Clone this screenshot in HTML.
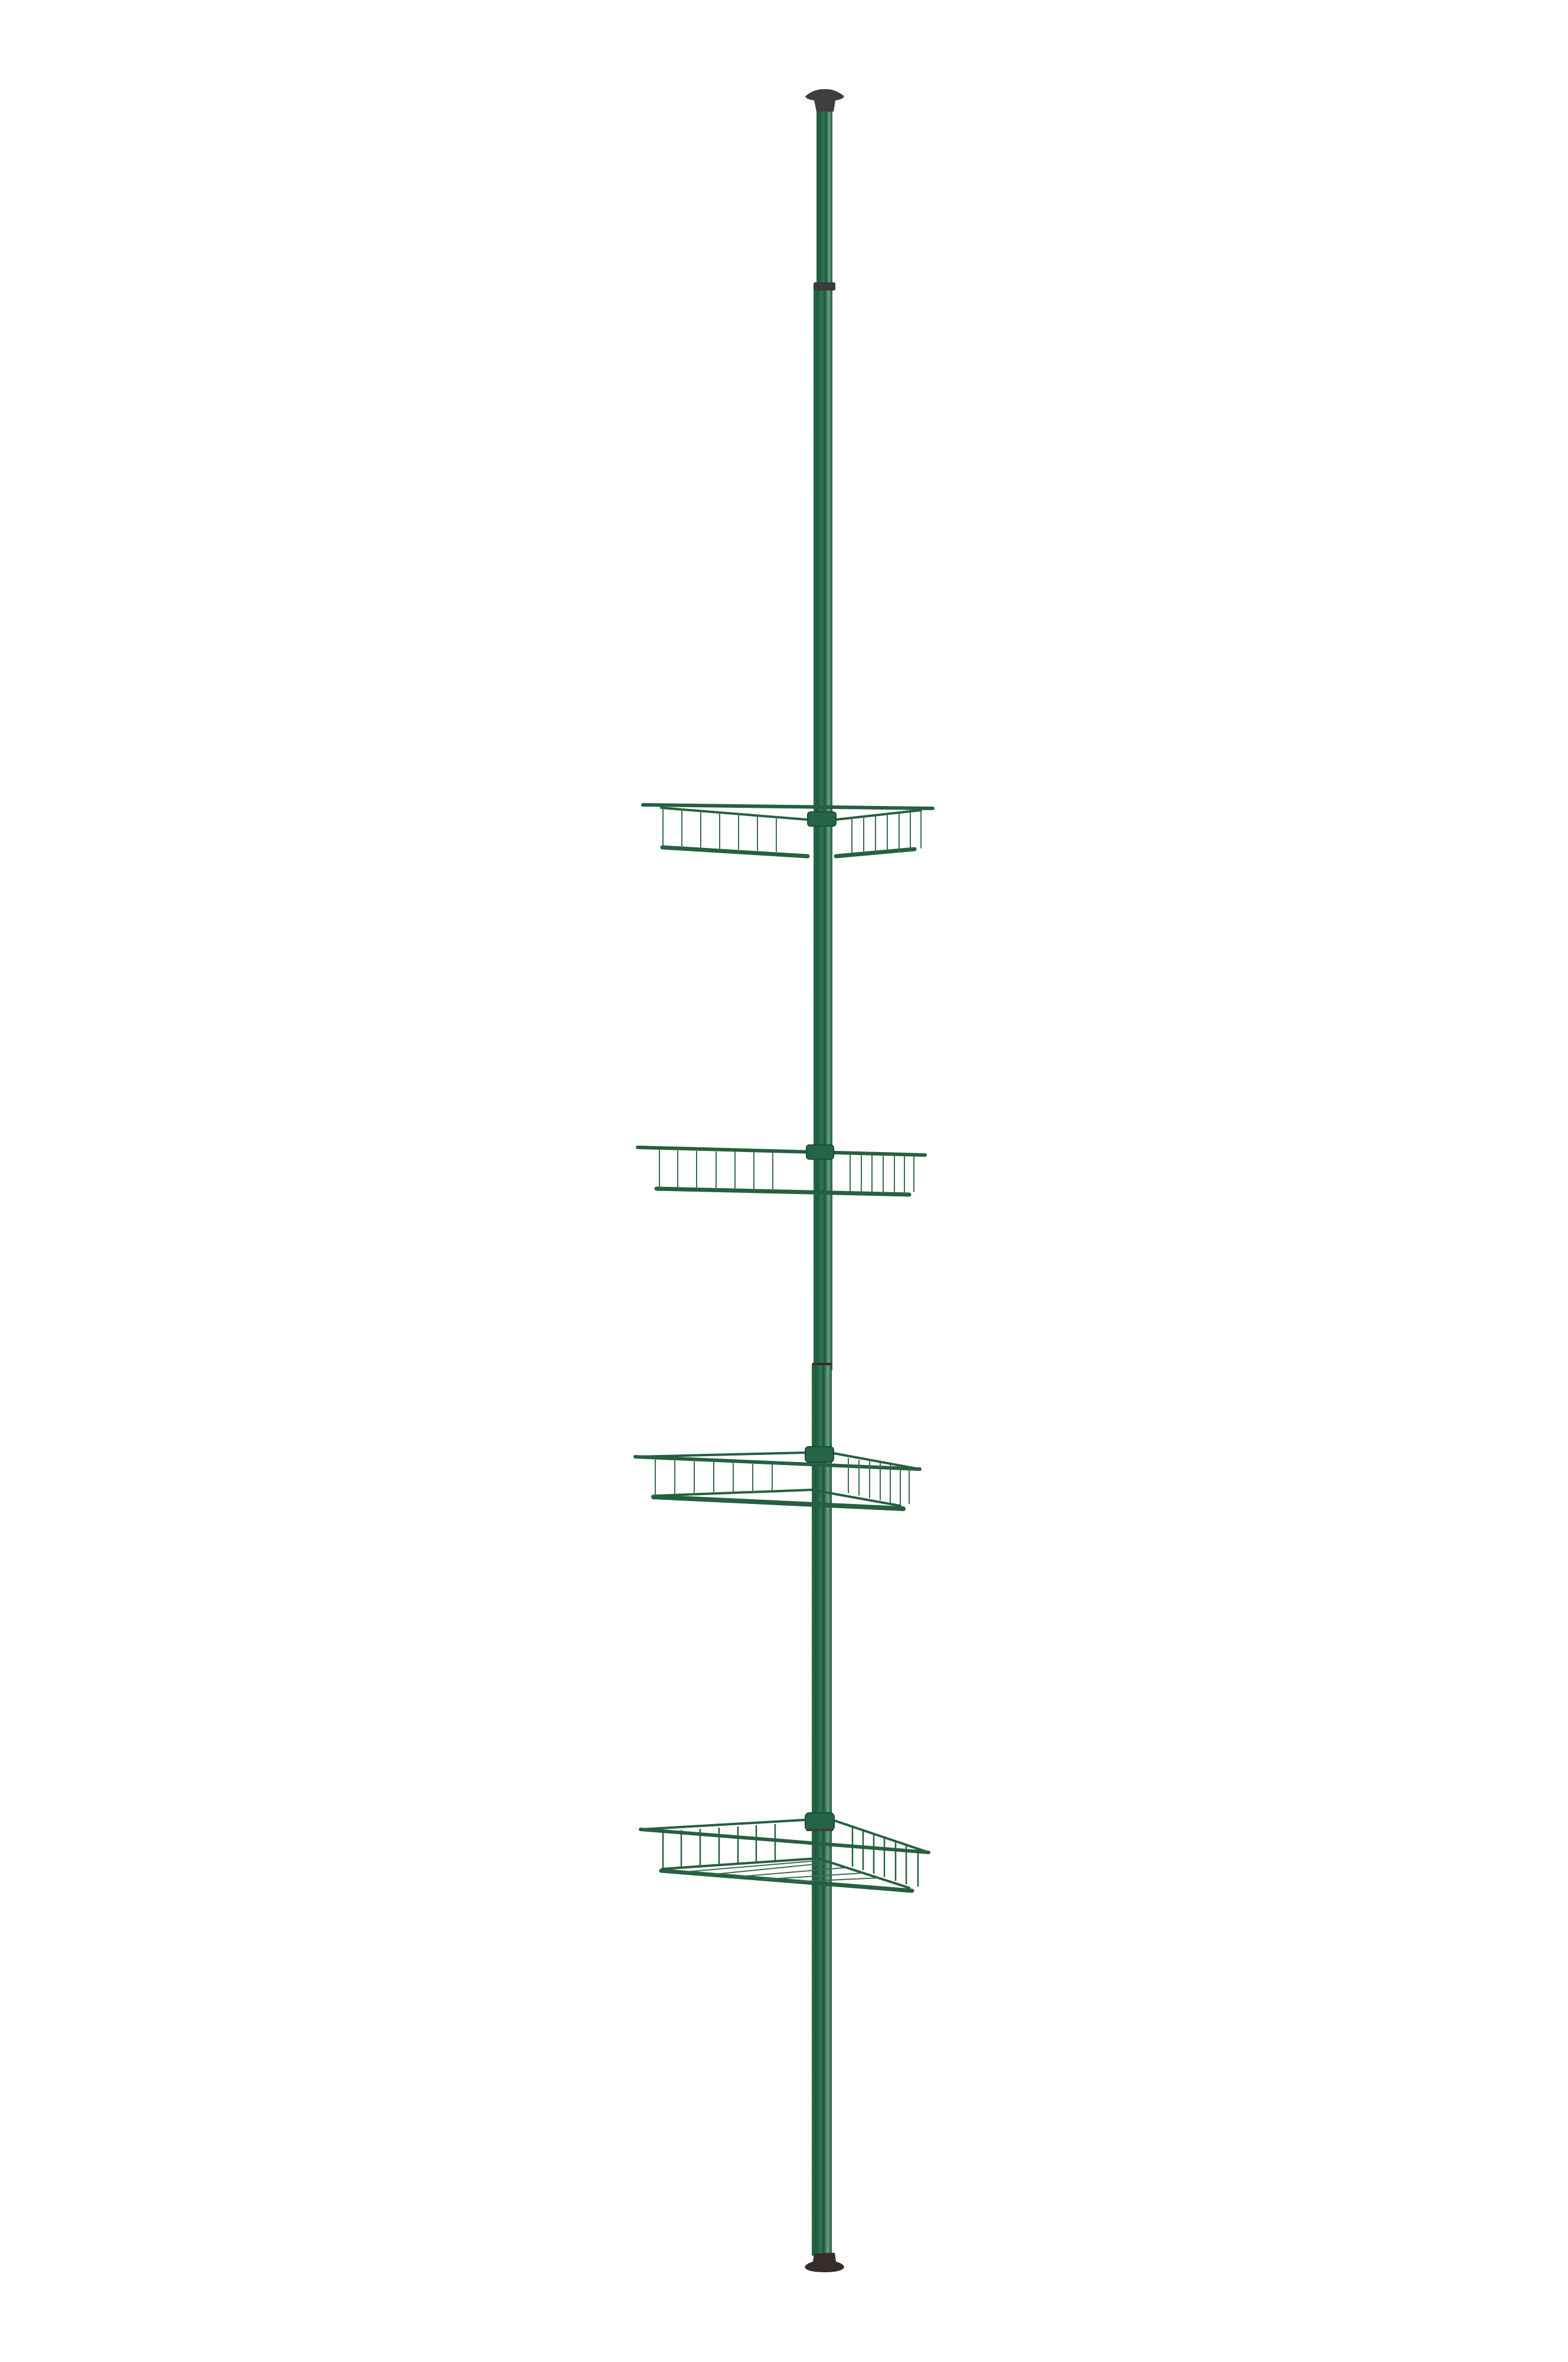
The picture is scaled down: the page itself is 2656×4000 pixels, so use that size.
<!DOCTYPE html>
<html><head><meta charset="utf-8"><style>html,body{margin:0;padding:0;background:#fff}svg{display:block}</style></head>
<body>
<svg width="2656" height="4000" viewBox="0 0 2656 4000" xmlns="http://www.w3.org/2000/svg">
<defs>
<linearGradient id="pg" x1="0" x2="1" y1="0" y2="0">
<stop offset="0" stop-color="#2a6a4a"/><stop offset="0.2" stop-color="#1d5a3c"/><stop offset="0.45" stop-color="#2f7a55"/><stop offset="0.6" stop-color="#1c5638"/><stop offset="0.8" stop-color="#6f9f88"/><stop offset="1" stop-color="#1e5a3c"/>
</linearGradient>
</defs>
<rect x="1383" y="180" width="27" height="300" fill="url(#pg)"/>
<rect x="1378" y="490" width="32" height="1830" fill="url(#pg)"/>
<rect x="1375" y="2310" width="34" height="1510" fill="url(#pg)"/>
<rect x="1376" y="2308" width="32" height="4" fill="#3a2a22"/>
<path d="M1364 163 Q1380 150 1397 151 Q1414 150 1430 163 Q1428 168 1415 170 L1412 189 L1383 189 L1379 170 Q1365 168 1364 163Z" fill="#3e3e3e"/>
<rect x="1378" y="478" width="37" height="14" rx="3" fill="#3b3b3b"/>
<path d="M1379 3816 L1414 3815 L1416 3830 Q1430 3834 1430 3840 Q1425 3848 1397 3848 Q1368 3848 1363 3840 Q1364 3834 1377 3830Z" fill="#342d2a"/>
<g fill="none" stroke="#25603f" stroke-linecap="round">
<!-- Basket 1 -->
<g>
<path d="M1089 1363 L1580 1369" stroke-width="6"/>
<path d="M1120 1368 L1368 1388 M1416 1388 L1560 1372" stroke-width="4"/>
<path d="M1122 1435 L1368 1450 M1416 1450 L1549 1438" stroke-width="7"/>
<g stroke-width="2" stroke="#3c6b54">
<path d="M1123 1368V1434 M1155 1370V1435 M1187 1373V1436 M1219 1376V1437 M1251 1378V1438 M1283 1381V1440 M1315 1383V1442"/>
<path d="M1443 1385V1445 M1463 1383V1444 M1483 1381V1443 M1503 1379V1442 M1523 1377V1441 M1542 1375V1440 M1560 1373V1436"/>
</g>
<rect x="1368" y="1375" width="48" height="24" rx="5" fill="#256545" stroke="#1c4c33" stroke-width="2"/>
</g>
<!-- Basket 2 -->
<g>
<path d="M1080 1943 L1567 1956" stroke-width="6"/>
<path d="M1112 2013 L1540 2023" stroke-width="7"/>
<g stroke-width="2" stroke="#3c6b54">
<path d="M1117 1948V2011 M1148 1949V2012 M1180 1950V2013 M1213 1951V2014 M1245 1951V2015 M1277 1952V2016 M1309 1953V2017"/>
<path d="M1440 1955V2019 M1459 1955V2019 M1477 1956V2020 M1496 1956V2020 M1515 1957V2021 M1532 1957V2021 M1548 1958V2018"/>
</g>
<rect x="1366" y="1939" width="46" height="24" rx="5" fill="#256545" stroke="#1c4c33" stroke-width="2"/>
</g>
<!-- Basket 3 -->
<g>
<path d="M1076 2467 L1365 2460 M1412 2461 L1558 2488" stroke-width="4"/>
<path d="M1076 2467 L1558 2488" stroke-width="6"/>
<path d="M1107 2535 L1530 2555" stroke-width="8"/>
<path d="M1110 2533 L1375 2523 L1525 2550" stroke-width="4"/>
<g stroke-width="2" stroke="#3c6b54">
<path d="M1110 2470V2532 M1143 2471V2531 M1176 2472V2530 M1209 2474V2529 M1242 2475V2528 M1275 2476V2527 M1308 2478V2526"/>
<path d="M1437 2470V2528 M1455 2473V2532 M1473 2475V2536 M1491 2478V2540 M1508 2481V2544 M1525 2484V2548 M1540 2486V2546"/>
</g>
<rect x="1364" y="2450" width="48" height="26" rx="6" fill="#256545" stroke="#1c4c33" stroke-width="2"/>
</g>
<!-- Basket 4 -->
<g>
<path d="M1085 3098 L1363 3082 M1413 3083 L1573 3137" stroke-width="4"/>
<path d="M1085 3098 L1573 3137" stroke-width="6"/>
<path d="M1120 3168 L1545 3202" stroke-width="7"/>
<path d="M1122 3165 L1385 3147 L1540 3197" stroke-width="4"/>
<g stroke-width="2" stroke="#3c6b54">
<path d="M1160 3170 L1385 3151 M1200 3175 L1400 3155 M1240 3179 L1430 3163 M1290 3183 L1460 3172 M1340 3187 L1490 3180"/>
</g>
<g stroke-width="2.5">
<path d="M1123 3102V3162 M1154 3100V3160 M1186 3098V3158 M1218 3096V3156 M1250 3094V3154 M1281 3092V3152 M1313 3090V3150"/>
<path d="M1444 3093V3160 M1462 3099V3166 M1480 3105V3172 M1498 3111V3178 M1517 3117V3184 M1535 3123V3190 M1555 3130V3194"/>
</g>
<rect x="1364" y="3070" width="49" height="30" rx="7" fill="#256545" stroke="#1c4c33" stroke-width="2"/>
<rect x="1366" y="3097" width="45" height="4" fill="#4a3a2c" stroke="none"/>
</g>
</g>
</svg>
</body></html>
